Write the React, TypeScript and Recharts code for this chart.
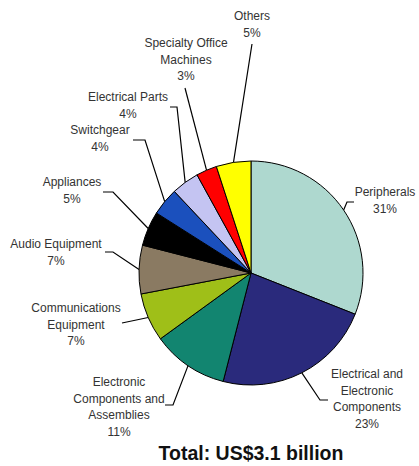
import React from "react";
import { PieChart, Pie, Cell } from "recharts";

const categories = [
  "Peripherals",
  "Electrical and Electronic Components",
  "Electronic Components and Assemblies",
  "Communications Equipment",
  "Audio Equipment",
  "Appliances",
  "Switchgear",
  "Electrical Parts",
  "Specialty Office Machines",
  "Others",
];
const shares = [31, 23, 11, 7, 7, 5, 4, 4, 3, 5];
const labelLines: string[][] = [
  ["Peripherals"],
  ["Electrical and", "Electronic", "Components"],
  ["Electronic", "Components and", "Assemblies"],
  ["Communications", "Equipment"],
  ["Audio Equipment"],
  ["Appliances"],
  ["Switchgear"],
  ["Electrical Parts"],
  ["Specialty Office", "Machines"],
  ["Others"],
];
const percentLabels = ["31%", "23%", "11%", "7%", "7%", "5%", "4%", "4%", "3%", "5%"];
const colors = [
  "#aed8cf",
  "#2a2a7c",
  "#128570",
  "#9fbf18",
  "#8a7a62",
  "#000000",
  "#1b50bd",
  "#c4c4f2",
  "#ff0000",
  "#ffff00",
];
const totalLabel = "Total: US$3.1 billion";

// layout of label text and leader elbows (positions, kept separate from data)
const labelLayout = [
  { x: 385, y: 192, pts: [[347, 202], [354, 202]] },
  { x: 367, y: 374, pts: [[320, 400], [328, 400]] },
  { x: 119, y: 382, pts: [[173, 405], [165, 405]] },
  { x: 76, y: 308, pts: [[122, 323]] },
  { x: 56, y: 244, pts: [[113, 252], [105, 252]] },
  { x: 72, y: 182, pts: [[113, 192], [103, 192]] },
  { x: 100, y: 130, pts: [[145, 140], [133, 140]] },
  { x: 128, y: 97, pts: [[177, 107], [170, 107]] },
  { x: 186, y: 43, pts: [[185, 88]] },
  { x: 252, y: 16, pts: [[252, 44]] },
];

const data = categories.map((name, i) => ({ name, value: shares[i] }));
const RAD = Math.PI / 180;
const LINE_H = 16.5;

const renderLabel = (props: any) => {
  const { cx, cy, midAngle, outerRadius, index } = props;
  const ex = cx + outerRadius * Math.cos(-midAngle * RAD);
  const ey = cy + outerRadius * Math.sin(-midAngle * RAD);
  const lay = labelLayout[index];
  const pts = [[ex, ey], ...lay.pts].map((p) => p.join(",")).join(" ");
  const lines = [...labelLines[index], percentLabels[index]];
  return (
    <g key={`lbl-${index}`}>
      <polyline points={pts} fill="none" stroke="#000" strokeWidth={1.2} />
      {lines.map((t, j) => (
        <text
          key={j}
          x={lay.x}
          y={lay.y + j * LINE_H + 4}
          textAnchor="middle"
          fill="#333"
          fontSize={12}
          fontFamily="'Liberation Sans', Arial, sans-serif"
        >
          {t}
        </text>
      ))}
    </g>
  );
};

export default function App() {
  return (
    <div style={{ position: "absolute", left: 0, top: 0, width: 419, height: 466, background: "#fff" }}>
      <PieChart width={419} height={466} margin={{ top: 0, right: 0, bottom: 0, left: 0 }}>
        <Pie
          data={data}
          dataKey="value"
          nameKey="name"
          cx={251}
          cy={273}
          outerRadius={112}
          startAngle={90}
          endAngle={-270}
          stroke="#000"
          strokeWidth={1}
          label={renderLabel}
          labelLine={false}
          isAnimationActive={false}
        >
          {data.map((d, i) => (
            <Cell key={d.name} fill={colors[i]} />
          ))}
        </Pie>
        <text
          x={251}
          y={460}
          textAnchor="middle"
          fontSize={19.5}
          fontWeight="bold"
          fill="#111"
          fontFamily="'Liberation Sans', Arial, sans-serif"
        >
          {totalLabel}
        </text>
      </PieChart>
    </div>
  );
}
